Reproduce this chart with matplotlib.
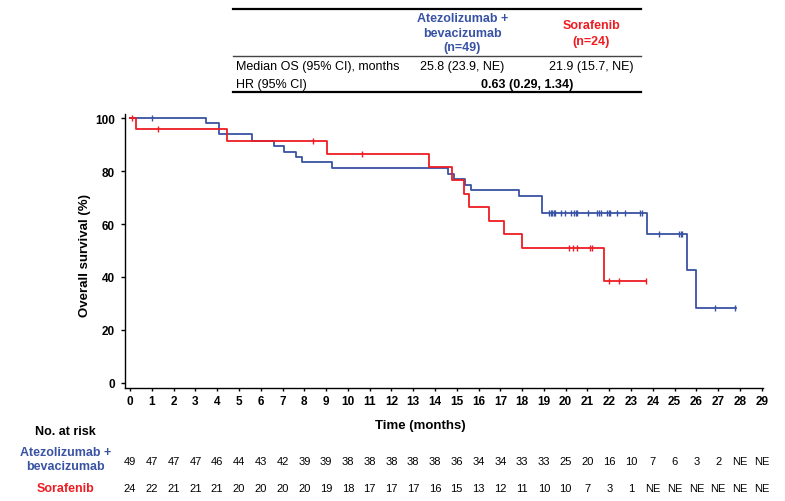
import numpy as np
import matplotlib
matplotlib.use('Agg')
import matplotlib.pyplot as plt
import matplotlib.transforms as mtransforms
from matplotlib.lines import Line2D

plt.rcParams['font.family'] = ['Liberation Sans', 'DejaVu Sans']

# Colores
azul = '#3953a4'
rojo = '#ee1d23'

# Curva Kaplan-Meier: Atezolizumab + bevacizumab (tiempos en meses, supervivencia en %)
atezo_t = [0, 3.48, 4.09, 5.58, 6.60, 7.09, 7.64, 7.89, 9.25, 14.61, 14.88, 15.37,
           15.64, 17.84, 18.93, 23.72, 25.56, 25.99, 27.8]
atezo_s = [100, 98.0, 94.0, 91.3, 89.5, 87.4, 85.4, 83.3, 81.1, 78.8, 76.9, 74.8,
           72.7, 70.6, 64.2, 56.3, 42.6, 28.1, 28.1]
atezo_cens = [1.01, 19.23, 19.31, 19.38, 19.46, 19.52, 19.78, 19.98, 20.23, 20.38,
              20.46, 20.51, 21.01, 21.42, 21.53, 21.64, 21.88, 21.98, 22.05, 22.34,
              22.74, 23.41, 23.49, 24.27, 25.20, 25.30, 25.36, 26.86, 27.78]

# Curva Kaplan-Meier: Sorafenib
sora_t = [0, 0.26, 4.43, 9.05, 13.72, 14.76, 15.34, 15.56, 16.46, 17.17, 17.98, 21.76, 23.7]
sora_s = [100, 95.8, 91.3, 86.5, 81.4, 76.6, 71.3, 66.3, 61.1, 56.1, 50.9, 38.3, 38.3]
sora_cens = [0.09, 1.27, 8.41, 10.63, 20.14, 20.32, 20.53, 21.12, 21.22, 22.0, 22.46, 23.69]

# Número en riesgo
meses = list(range(0, 30))
riesgo_atezo = ['49', '47', '47', '47', '46', '44', '43', '42', '39', '39', '38', '38',
                '38', '38', '38', '36', '34', '34', '33', '33', '25', '20', '16', '10',
                '7', '6', '3', '2', 'NE', 'NE']
riesgo_sora = ['24', '22', '21', '21', '21', '20', '20', '20', '20', '19', '18', '17',
               '17', '17', '16', '15', '13', '12', '11', '10', '10', '7', '3', '1',
               'NE', 'NE', 'NE', 'NE', 'NE', 'NE']

# Tabla de resumen
mediana_atezo = '25.8 (23.9, NE)'
mediana_sora = '21.9 (15.7, NE)'
hr_texto = '0.63 (0.29, 1.34)'


def censura_y(t, s, c):
    t = np.array(t)
    s = np.array(s)
    idx = np.searchsorted(t, c, side='right') - 1
    return s[idx]


fig = plt.figure(figsize=(7.85, 5.02), dpi=100)
ax = fig.add_axes([0.159, 0.225, 0.813, 0.546])

# Curvas
ax.step(atezo_t, atezo_s, where='post', color=azul, lw=1.3)
ax.step(sora_t, sora_s, where='post', color=rojo, lw=1.3)
ax.plot(atezo_cens, censura_y(atezo_t, atezo_s, atezo_cens), ls='none', marker='|',
        ms=5, mew=1, color=azul)
ax.plot(sora_cens, censura_y(sora_t, sora_s, sora_cens), ls='none', marker='|',
        ms=5, mew=1, color=rojo)

ax.set_xlim(-0.24, 29.06)
ax.set_ylim(-2.0, 101.6)
ax.set_xticks(meses)
ax.set_yticks([0, 20, 40, 60, 80, 100])
ax.spines['top'].set_visible(False)
ax.spines['right'].set_visible(False)
for sp_ in ['left', 'bottom']:
    ax.spines[sp_].set_linewidth(1.0)
ax.tick_params(axis='x', length=2.5, width=1, pad=2.5, labelsize=8.5)
ax.tick_params(axis='y', length=3, width=1, pad=4, labelsize=8.5)
for lab in ax.get_xticklabels() + ax.get_yticklabels():
    lab.set_fontweight('bold')

# Etiquetas de ejes
fig.text(0.108, 0.492, 'Overall survival (%)', rotation=90, ha='center', va='center',
         fontsize=9.5, fontweight='bold')
fig.text(0.536, 0.152, 'Time (months)', ha='center', va='center',
         fontsize=9.5, fontweight='bold')

# Tabla de número en riesgo
trans = mtransforms.blended_transform_factory(ax.transData, fig.transFigure)
fig.text(0.083, 0.140, 'No. at risk', ha='center', va='center', fontsize=9, fontweight='bold')
fig.text(0.083, 0.098, 'Atezolizumab +', ha='center', va='center', fontsize=9,
         fontweight='bold', color=azul)
fig.text(0.083, 0.069, 'bevacizumab', ha='center', va='center', fontsize=9,
         fontweight='bold', color=azul)
fig.text(0.083, 0.0265, 'Sorafenib', ha='center', va='center', fontsize=9,
         fontweight='bold', color=rojo)
for m, a, s in zip(meses, riesgo_atezo, riesgo_sora):
    ax.text(m, 0.0803, a, transform=trans, ha='center', va='center', fontsize=8)
    ax.text(m, 0.0265, s, transform=trans, ha='center', va='center', fontsize=8)

# Tabla superior (mediana OS y HR)
x0, x1 = 0.297, 0.816
fig.add_artist(Line2D([x0, x1], [0.981, 0.981], color='black', lw=1.6))
fig.add_artist(Line2D([x0, x1], [0.887, 0.887], color='#444444', lw=1.0))
fig.add_artist(Line2D([x0, x1], [0.815, 0.815], color='black', lw=1.6))
fig.text(0.589, 1 - 19.3 / 502, 'Atezolizumab +', ha='center', va='center', fontsize=9,
         fontweight='bold', color=azul)
fig.text(0.589, 1 - 34.0 / 502, 'bevacizumab', ha='center', va='center', fontsize=9,
         fontweight='bold', color=azul)
fig.text(0.589, 1 - 48.5 / 502, '(n=49)', ha='center', va='center', fontsize=9,
         fontweight='bold', color=azul)
fig.text(0.753, 1 - 26.0 / 502, 'Sorafenib', ha='center', va='center', fontsize=9,
         fontweight='bold', color=rojo)
fig.text(0.753, 1 - 41.5 / 502, '(n=24)', ha='center', va='center', fontsize=9,
         fontweight='bold', color=rojo)
fig.text(0.301, 1 - 66.7 / 502, 'Median OS (95% CI), months', ha='left', va='center',
         fontsize=9)
fig.text(0.589, 1 - 66.7 / 502, mediana_atezo, ha='center', va='center', fontsize=9)
fig.text(0.753, 1 - 66.7 / 502, mediana_sora, ha='center', va='center', fontsize=9)
fig.text(0.301, 1 - 85.0 / 502, 'HR (95% CI)', ha='left', va='center', fontsize=9)
fig.text(0.671, 1 - 85.0 / 502, hr_texto, ha='center', va='center', fontsize=9,
         fontweight='bold')

fig.savefig('out.png', dpi=100)
